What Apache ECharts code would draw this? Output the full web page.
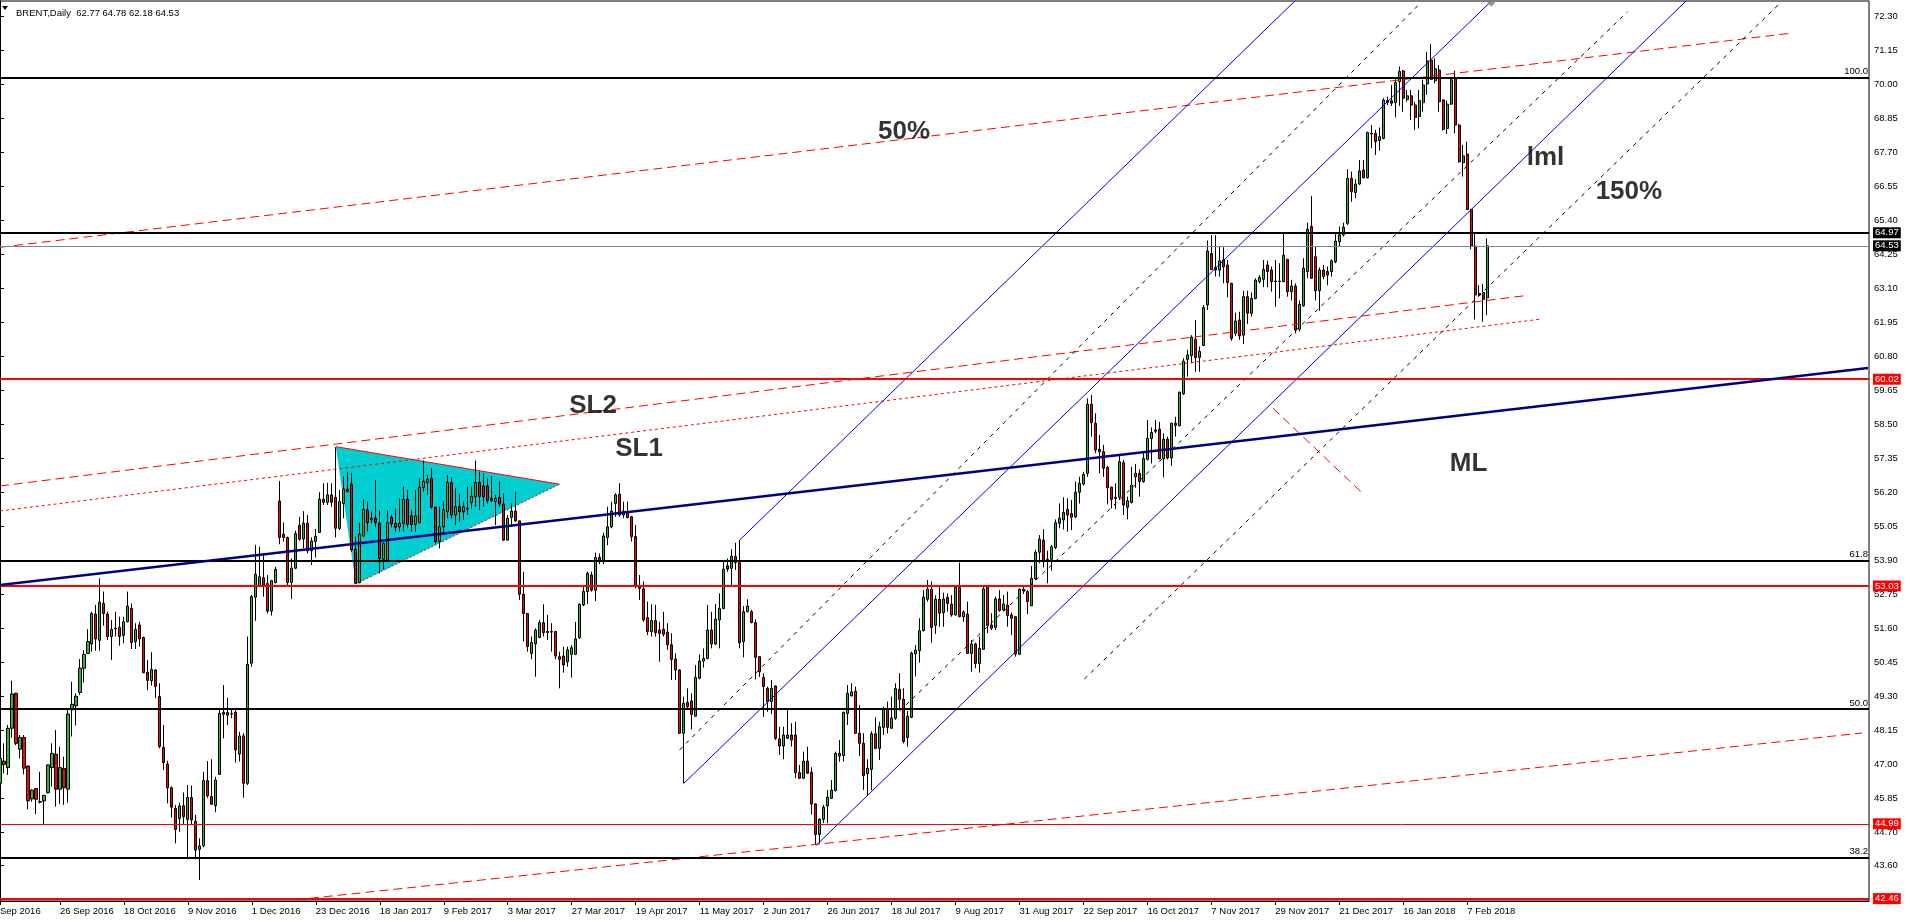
<!DOCTYPE html>
<html><head><meta charset="utf-8">
<script src="https://cdn.jsdelivr.net/npm/echarts@6/dist/echarts.min.js"></script>
<style>html,body{margin:0;padding:0;background:#fff;overflow:hidden}#c{width:1911px;height:923px}</style>
</head><body><div id="c"></div>
<script>
// ---- DATA ----
// daily bars [open, close, low, high]
const ohlc = [
[46.36,47.20,46.08,49.01],[47.11,47.00,46.70,47.71],[46.89,48.22,46.64,48.33],[48.22,49.38,47.90,49.83],[49.40,47.71,47.65,49.42],
[47.51,47.91,47.20,47.99],[47.91,46.87,46.66,47.99],[46.94,45.77,45.48,46.96],[45.83,46.13,45.74,46.15],[46.18,45.82,45.32,46.20],
[45.74,45.72,45.68,46.75],[45.76,45.95,44.97,45.97],[46.04,46.98,46.02,47.00],[46.89,47.37,46.25,47.71],[47.34,46.16,45.57,48.16],
[46.16,46.89,45.66,47.60],[46.86,46.21,45.63,47.26],[46.16,48.70,45.70,48.84],[48.84,49.03,47.94,49.79],[48.98,49.30,48.31,49.40],
[49.43,50.25,49.34,50.56],[50.25,50.72,49.77,50.86],[50.75,51.15,50.73,51.57],[51.07,52.10,50.81,52.16],[52.08,51.24,50.84,52.39],
[51.19,52.48,50.84,53.29],[52.44,52.10,51.69,52.84],[52.08,51.32,51.20,52.16],[51.32,51.56,50.53,51.88],[51.60,51.58,51.32,52.16],
[51.63,51.32,51.01,51.99],[51.36,51.82,51.09,51.99],[51.82,52.35,51.80,52.84],[52.27,51.12,50.90,52.44],[51.15,51.56,50.90,51.77],
[51.71,51.24,50.98,51.82],[51.29,50.10,50.08,51.32],[50.11,49.84,49.51,50.53],[49.83,50.21,49.66,50.79],[50.19,49.63,49.23,50.21],
[49.29,47.60,47.54,49.74],[47.57,47.06,46.81,48.33],[47.01,46.21,45.68,47.12],[46.21,45.55,45.20,46.25],[45.51,44.80,44.33,45.63],
[45.17,45.59,44.72,45.70],[45.60,45.23,44.95,46.05],[45.14,45.88,43.79,46.30],[45.88,45.12,44.95,46.28],[45.08,44.10,43.79,45.29],
[44.13,44.24,43.09,44.50],[44.25,46.45,44.19,46.75],[46.45,45.93,45.87,47.11],[45.91,45.65,45.63,47.17],[45.60,46.47,45.38,46.58],
[46.66,48.72,46.64,48.89],[48.76,48.69,47.88,49.68],[48.75,48.66,48.33,49.25],[48.70,48.72,48.56,48.89],[48.76,47.49,47.06,48.89],
[47.35,47.96,47.10,48.10],[47.96,46.36,45.87,48.05],[46.36,50.38,46.30,51.32],[50.42,52.67,50.30,52.73],[52.65,53.42,51.85,54.42],
[53.04,53.34,53.01,54.36],[53.31,53.06,52.67,54.13],[53.11,52.18,52.10,53.40],[52.18,53.21,52.03,53.23],[53.14,53.59,53.12,53.68],
[55.90,54.67,54.44,56.58],[54.78,54.67,54.53,55.18],[54.67,53.15,53.01,54.70],[53.15,53.63,52.59,53.96],[53.63,54.80,53.60,54.90],
[55.08,54.61,54.56,55.37],[54.62,55.15,54.30,55.56],[55.15,54.22,54.13,55.43],[54.22,54.55,53.74,54.67],[54.53,54.71,53.99,54.96],
[54.84,55.96,54.83,56.20],[55.96,55.86,55.77,56.50],[55.86,56.11,55.77,56.52],[56.11,55.86,55.71,56.50],[56.03,54.98,54.67,57.72],
[54.98,55.88,54.92,56.27],[55.82,56.31,55.32,56.73],[56.30,56.22,56.20,56.89],[56.47,54.25,54.19,56.86],[54.27,53.12,53.10,54.70],
[53.14,54.78,53.12,55.17],[54.72,55.62,54.70,55.96],[55.60,55.17,54.87,55.88],[55.32,55.26,55.15,55.54],[55.32,55.17,55.01,56.61],
[55.15,53.96,53.46,55.58],[53.93,54.47,53.59,54.50],[53.91,55.17,53.89,55.58],[55.35,55.13,55.01,55.43],[55.15,55.01,54.87,55.65],
[55.03,55.15,54.87,55.99],[55.15,55.96,54.87,56.39],[55.96,55.11,54.98,56.27],[55.40,55.11,54.87,55.60],[55.11,55.40,54.87,56.27],
[55.17,56.36,55.15,56.67],[56.36,56.56,56.22,57.27],[56.53,56.63,56.11,56.78],[56.67,55.69,55.65,57.01],[55.69,54.53,54.47,55.71],
[54.53,55.03,54.30,55.71],[55.03,55.60,54.75,55.88],[55.54,56.53,55.32,56.78],[56.52,55.43,55.32,56.70],[55.43,55.71,55.09,56.33],
[55.71,55.54,55.20,56.14],[55.54,55.71,55.26,55.88],[55.63,55.65,55.43,56.39],[55.85,56.07,55.65,56.39],[56.05,56.53,55.71,57.27],
[56.53,56.05,55.60,56.89],[56.41,56.05,55.71,56.84],[56.41,55.91,55.82,56.67],[55.99,55.91,55.88,56.75],[55.88,55.99,55.09,56.11],
[56.02,55.80,55.71,56.56],[55.80,54.58,54.55,56.16],[54.58,55.32,54.56,55.43],[55.35,55.56,55.03,55.82],[55.56,55.23,55.20,56.22],
[55.23,52.75,52.56,55.25],[52.75,52.10,51.15,53.51],[52.10,50.98,50.81,52.12],[50.75,51.12,50.55,51.32],[51.07,51.54,49.96,51.60],
[51.29,51.79,51.26,51.88],[51.79,51.45,51.32,52.41],[51.49,51.46,51.20,52.05],[51.49,51.47,50.81,51.77],[51.49,50.66,50.55,51.51],
[50.64,50.55,49.57,50.81],[50.66,50.36,50.10,50.98],[50.47,50.87,50.30,50.98],[50.72,50.94,49.93,51.03],[50.72,51.24,50.70,51.82],
[51.28,52.41,51.24,52.44],[52.39,52.84,52.35,53.06],[52.84,53.46,52.42,53.51],[53.40,52.89,52.84,53.51],[52.89,53.99,52.52,54.16],
[54.00,53.85,53.77,54.13],[53.89,54.72,53.77,54.83],[54.67,55.03,54.41,55.71],[55.03,55.56,54.98,55.88],[55.82,56.11,55.37,56.16],
[56.13,55.43,55.37,56.50],[55.56,55.43,55.32,55.88],[55.54,55.34,55.32,55.88],[55.37,54.70,54.53,55.40],[54.70,53.01,52.95,55.09],
[53.01,52.95,52.56,53.40],[52.93,51.88,51.82,53.18],[51.96,51.49,51.37,52.50],[51.49,51.86,51.32,52.41],[51.86,51.45,51.32,52.39],
[51.54,51.43,50.47,51.82],[51.57,51.40,51.32,52.16],[51.47,51.04,50.87,51.77],[51.04,50.55,49.85,51.43],[50.56,50.19,49.85,50.75],
[50.19,48.05,48.03,50.21],[48.05,49.06,46.36,49.29],[49.09,48.95,48.89,49.57],[49.14,48.69,48.18,49.40],[48.63,49.94,48.61,50.36],
[49.91,50.49,49.87,50.72],[50.49,50.58,50.27,50.92],[50.58,51.54,50.55,52.39],[51.54,51.07,50.92,52.16],[51.07,51.91,51.03,52.42],
[51.88,52.27,50.92,52.78],[52.27,53.60,52.24,53.91],[53.71,53.60,53.51,53.96],[53.63,54.04,53.06,54.27],[54.02,53.82,53.57,54.49],
[53.82,51.11,50.92,54.58],[51.15,52.16,50.62,52.35],[52.16,52.35,52.14,52.58],[52.16,51.79,51.77,52.22],[51.79,50.62,49.87,51.90],
[50.64,50.13,49.96,50.66],[49.94,49.63,48.61,50.08],[49.57,49.12,48.78,49.63],[49.12,49.57,48.70,49.85],[49.65,47.88,47.82,49.67],
[47.86,47.62,47.32,48.27],[47.62,47.99,47.17,48.27],[47.88,47.99,47.86,48.84],[47.99,47.82,47.60,48.39],[47.99,46.72,46.53,48.44],
[46.72,46.53,46.50,46.98],[46.53,47.11,46.50,47.43],[47.11,46.70,46.68,47.60],[46.73,45.66,45.31,46.90],[45.66,44.63,44.27,45.68],
[44.63,45.14,44.33,45.18],[45.14,45.55,45.01,45.63],[45.59,45.89,45.01,46.13],[45.85,46.13,45.83,46.47],[46.11,47.37,46.08,47.43],
[47.37,47.28,47.09,47.82],[47.30,48.76,47.09,48.78],[48.72,49.40,48.33,49.68],[49.32,49.45,49.29,49.74],[49.47,48.05,48.03,49.63],
[48.05,47.71,47.28,49.01],[47.71,46.62,46.13,48.05],[46.68,46.87,45.96,47.17],[46.83,48.03,46.13,48.12],[48.03,47.54,47.51,48.59],
[47.54,48.27,47.15,48.44],[48.25,48.89,47.99,48.95],[48.89,48.25,48.05,49.12],[48.22,48.57,48.20,49.29],[48.56,49.56,48.50,49.74],
[49.54,49.20,48.89,50.08],[49.20,47.77,47.71,49.57],[47.91,48.62,47.60,48.81],[48.59,50.76,48.56,50.81],[50.73,50.86,49.97,51.03],
[50.84,51.52,50.44,51.94],[51.52,52.65,51.49,52.89],[52.58,52.92,52.50,53.23],[52.92,51.63,51.11,53.18],[51.70,52.58,51.41,52.72],
[52.58,52.11,51.65,53.06],[52.13,52.59,51.65,52.80],[52.65,52.44,52.16,52.78],[52.42,52.05,51.99,52.72],[52.05,52.98,52.03,53.03],
[52.98,51.99,51.97,53.82],[51.99,52.15,51.82,52.20],[52.08,50.75,50.73,52.50],[50.75,51.07,50.13,51.20],[51.07,50.41,50.25,51.11],
[50.41,50.92,50.10,51.32],[50.89,52.93,50.87,53.03],[53.04,51.69,51.43,53.06],[51.71,51.60,51.54,52.11],[51.63,52.59,51.54,52.67],
[52.59,52.20,52.16,52.89],[52.22,52.42,52.18,52.72],[52.38,52.03,51.65,52.84],[52.05,51.94,51.37,52.13],[51.99,50.73,50.64,52.02],
[50.72,52.92,50.70,52.95],[52.92,52.86,52.76,53.03],[52.84,52.50,52.08,52.89],[52.36,53.29,52.35,53.71],[53.27,54.17,53.23,54.25],
[54.17,54.61,53.80,54.75],[54.58,53.85,53.66,54.95],[53.93,53.87,53.12,54.22],[53.93,54.36,53.55,54.42],[54.33,55.17,54.28,55.28],
[55.15,55.32,54.98,55.82],[55.26,55.52,54.94,56.03],[55.62,55.43,54.87,55.99],[55.48,55.35,54.92,55.94],[55.37,56.20,55.32,56.56],
[56.20,56.50,55.82,56.72],[56.48,56.80,56.42,56.89],[56.84,59.17,56.72,59.37],[59.17,58.55,58.08,59.49],[58.53,57.63,57.52,58.87],
[57.65,57.57,56.84,58.13],[57.57,57.01,56.72,57.80],[57.04,56.35,55.79,57.09],[56.37,55.96,55.65,56.39],[56.03,55.99,55.62,56.50],
[56.03,57.23,55.94,57.46],[57.20,55.77,55.43,57.29],[55.69,55.91,55.28,56.05],[55.85,56.44,55.82,57.06],[56.72,56.84,56.35,57.15],
[56.84,56.56,56.05,56.97],[56.56,57.34,56.52,57.57],[57.31,58.02,57.27,58.64],[58.01,58.22,57.17,58.39],[58.30,58.26,58.19,58.64],
[58.33,57.33,57.31,58.58],[57.33,57.99,56.70,58.19],[57.99,57.36,57.31,58.08],[57.36,58.53,57.09,58.55],[58.53,58.46,58.08,58.75],
[58.45,59.58,58.42,59.60],[59.52,60.63,59.49,60.73],[60.69,60.84,60.11,61.01],[60.82,61.44,60.56,61.51],[61.37,60.75,60.27,62.02],
[60.76,60.96,60.27,61.12],[61.16,62.44,61.14,62.53],[62.53,64.35,62.36,64.71],[64.27,63.73,63.71,64.89],[63.79,63.71,63.49,64.89],
[63.71,64.02,63.49,64.50],[64.05,63.82,63.26,64.48],[63.88,63.29,62.79,64.05],[63.26,61.40,61.32,63.28],[61.57,61.99,61.48,62.27],
[62.02,61.48,61.35,62.30],[61.51,62.81,61.21,63.01],[62.81,62.25,61.89,63.01],[62.25,62.75,62.14,62.95],[62.75,63.37,62.72,63.43],
[63.32,63.46,63.26,63.54],[63.40,63.73,63.13,64.05],[63.88,63.66,63.13,64.03],[63.71,63.32,62.98,63.83],[63.34,63.32,62.47,64.05],
[63.32,63.34,62.75,63.94],[63.32,64.21,63.30,64.95],[64.07,62.98,62.81,64.09],[62.98,63.17,62.68,63.38],[63.17,61.68,61.57,63.26],
[61.71,62.55,61.63,62.68],[62.50,63.77,62.47,64.11],[63.66,65.09,63.43,65.31],[65.18,63.43,63.41,66.21],[64.16,63.01,62.68,64.52],
[63.01,63.71,62.33,63.80],[63.71,63.49,63.40,63.88],[63.66,63.54,63.20,63.83],[63.66,64.02,63.49,64.07],[63.99,64.69,63.94,64.95],
[64.67,64.90,64.50,65.18],[64.90,65.16,64.84,65.31],[65.29,66.81,65.23,67.12],[66.81,66.36,66.02,67.04],[66.33,66.62,66.14,66.78],
[66.62,67.06,66.59,67.43],[67.09,66.83,66.81,67.43],[66.83,68.36,66.81,68.39],[68.33,68.31,67.83,68.61],[68.33,68.05,67.60,68.45],
[68.09,68.22,67.75,68.53],[68.16,69.46,68.13,69.52],[69.44,69.38,69.29,69.57],[69.43,69.35,69.26,69.97],[69.37,70.05,68.87,70.16],
[70.08,70.42,69.26,70.59],[70.44,69.52,69.06,70.47],[69.48,69.60,69.40,69.80],[69.60,69.29,68.78,69.80],[69.29,68.87,68.45,69.40],
[68.90,69.44,68.50,69.80],[69.37,69.97,69.06,70.14],[70.00,70.78,69.63,71.09],[70.81,70.16,70.14,71.35],[70.11,70.51,70.02,70.87],
[70.47,69.40,69.06,70.64],[69.46,68.47,68.42,69.48],[68.50,69.32,68.31,69.44],[69.32,70.14,69.29,70.19],[70.18,68.61,68.33,70.45],
[68.61,67.37,67.34,68.65],[67.34,67.57,66.87,67.94],[67.63,65.76,65.74,68.05],[65.76,64.52,64.41,65.78],[64.52,62.87,62.04,64.95],
[62.92,62.87,62.81,63.20],[62.95,62.72,61.96,63.24],[62.77,64.53,62.18,64.78]
];
const slotCount = 468; // bars + empty future space on the chart
const xLabelIndex = [0,15,31,47,63,79,95,111,127,143,159,175,191,207,223,239,255,271,287,303,319,335,351,367];
const xLabelText = ["Sep 2016","26 Sep 2016","18 Oct 2016","9 Nov 2016","1 Dec 2016","23 Dec 2016","18 Jan 2017","9 Feb 2017",
  "3 Mar 2017","27 Mar 2017","19 Apr 2017","11 May 2017","2 Jun 2017","26 Jun 2017","18 Jul 2017","9 Aug 2017","31 Aug 2017",
  "22 Sep 2017","16 Oct 2017","7 Nov 2017","29 Nov 2017","21 Dec 2017","16 Jan 2018","7 Feb 2018"];
const yTicks = [72.30,71.15,70.00,68.85,67.70,66.55,65.40,64.25,63.10,61.95,60.80,59.65,58.50,57.35,56.20,55.05,53.90,52.75,51.60,50.45,49.30,48.15,47.00,45.85,44.70,43.60];
// horizontal levels: value, kind, text
const levelValues = [70.21, 64.97, 64.53, 60.02, 53.88, 53.03, 48.87, 44.99, 43.84, 42.46];
const levelKinds  = ['fib','black','price','red','fib','red','fib','redThin','fib','red'];
const levelTexts  = ['100.0','64.97','64.53','60.02','61.8','53.03','50.0','44.99','38.2','42.46'];
// trend lines [barIndex, price]
const line50 = [[0,64.48],[447.5,71.71]];
const lineSL2 = [[0,56.41],[381.25,62.84]];
const lineSL1 = [[0,55.565],[385,62.045]];
const lineLowRed = [[74,42.42],[465.75,48.06]];
const lineShortRed = [[318.4,59.04],[341.25,56.11]];
const lineML = [[0,53.06],[467.25,60.40]];
const blueA = [[185,54.58],[324,72.82]];
const blueB = [[171,46.35],[373,72.80]];
const blueC = [[204.2,44.27],[421.7,72.80]];
const dash1 = [[170,47.49],[355.4,72.75]];
const dash2 = [[225,48.80],[407.1,72.44]];
const dash3 = [[271.25,49.885],[445.4,72.75]];
const triangle = [[84,57.74],[89,53.10],[140,56.47]];
const anchorB = [373,72.75];
const notes = [
  {name:'50%', value:[219.5,68.37]},
  {name:'SL2', value:[142.25,59.125]},
  {name:'SL1', value:[153.75,57.667]},
  {name:'lml', value:[381.75,67.515]},
  {name:'150%', value:[399,66.359]},
  {name:'ML', value:[362.5,57.17]}
];
const titleText = 'BRENT,Daily  62.77 64.78 62.18 64.53';

// ---- CHART ----
const FONT = '"Liberation Sans", Arial, sans-serif';
const categories = [];
for (let i = 0; i < slotCount; i++) categories.push(String(i));
const labelMap = {};
xLabelIndex.forEach((k, j) => labelMap[k] = xLabelText[j]);
const isLabel = (idx) => labelMap[idx] !== undefined;

const levelStyle = {
  fib:    {color:'#000000', width:2},
  black:  {color:'#000000', width:2},
  price:  {color:'#778899', width:1},
  red:    {color:'#FF0000', width:2},
  redThin:{color:'#FF0000', width:1}
};
const markData = levelValues.map((v, i) => {
  const kind = levelKinds[i];
  const st = levelStyle[kind];
  let label;
  if (kind === 'fib') {
    label = {show:true, position:'insideEndTop', formatter: levelTexts[i], color:'#000', fontSize:9.5, fontFamily:FONT, distance:1};
  } else {
    const bg = (kind === 'black' || kind === 'price') ? '#000000' : '#FF0000';
    label = {show:true, position:'end', formatter: levelTexts[i], color:'#fff', backgroundColor:bg,
      fontSize:9.5, fontFamily:FONT, padding:[1,2,0,2], distance:4, lineHeight:10};
  }
  return {yAxis: v, lineStyle:{color:st.color, width:st.width, type:'solid'}, label};
});

function seg(data, color, width, type, z) {
  return {type:'line', xAxisIndex:1, yAxisIndex:0, data, symbol:'none', silent:true, animation:false,
    clip:true, z: z || 4, lineStyle:{color, width, type}};
}

const option = {
  animation:false,
  backgroundColor:'#ffffff',
  textStyle:{fontFamily:FONT},
  title:{text:titleText, left:11, top:3, textStyle:{fontSize:9.5, fontWeight:'normal', color:'#000', fontFamily:FONT}},
  graphic:[{type:'polygon', shape:{points:[[2,6],[8,6],[5,10]]}, style:{fill:'#000'}}],
  grid:{left:-2, right:42, top:1, bottom:22, containLabel:false, outerBoundsMode:'none',
        show:true, borderColor:'#000', borderWidth:1, backgroundColor:'#fff'},
  xAxis:[
    {type:'category', data:categories, boundaryGap:true,
     axisLine:{show:true, lineStyle:{color:'#000', width:1}},
     axisTick:{show:true, alignWithLabel:true, length:4, interval:(idx)=>isLabel(idx), lineStyle:{color:'#000'}},
     axisLabel:{show:true, interval:(idx)=>isLabel(idx), formatter:(v, idx)=>labelMap[idx] || '', align:'left',
       margin:5, fontSize:9.5, color:'#000', fontFamily:FONT, hideOverlap:false},
     splitLine:{show:false}},
    {type:'value', min:-0.5, max:slotCount-0.5, show:false, splitLine:{show:false}}
  ],
  yAxis:[{type:'value', position:'right', min:42.38, max:72.806, scale:true,
    axisLine:{show:true, lineStyle:{color:'#000', width:1}},
    axisTick:{show:true, length:4, customValues:yTicks, lineStyle:{color:'#000'}},
    axisLabel:{show:true, customValues:yTicks, formatter:(v)=>Number(v).toFixed(2), margin:5, fontSize:9.5, color:'#000', fontFamily:FONT},
    splitLine:{show:false}}],
  series:[
    {type:'custom', xAxisIndex:1, yAxisIndex:0, data:[[0,50]], silent:true, z:1,
     renderItem:(params, api)=>{
       const p = triangle.map(t => api.coord(t));
       return {type:'group', children:[
         {type:'polygon', shape:{points:p}, style:{fill:'#00CED1'}},
         {type:'polyline', shape:{points:[p[0],p[2]]}, style:{stroke:'#FF0000', lineWidth:1, fill:null}},
         {type:'polyline', shape:{points:[p[1],p[2]]}, style:{stroke:'#FF0000', lineWidth:1, lineDash:[2,2], fill:null}}
       ]};
     }},
    {type:'candlestick', xAxisIndex:0, yAxisIndex:0, data:ohlc, barWidth:2.6, z:2, silent:true,
     itemStyle:{color:'#2DB52D', color0:'#FF0000', borderColor:'#000', borderColor0:'#000', borderColorDoji:'#000', borderWidth:1},
     markLine:{symbol:['none','none'], silent:true, animation:false, precision:2, data:markData}},
    seg(line50, '#FF0000', 1, [9,5]),
    seg(lineSL2, '#FF0000', 1, [9,5]),
    seg(lineSL1, '#FF0000', 1, [3,3]),
    seg(lineLowRed, '#FF0000', 1, [9,5]),
    seg(lineShortRed, '#FF0000', 1, [9,5]),
    seg(lineML, '#000080', 2.5, 'solid', 5),
    seg(blueA, '#0000CD', 1, 'solid'),
    seg(blueB, '#0000CD', 1, 'solid'),
    seg(blueC, '#0000CD', 1, 'solid'),
    seg(dash1, '#000000', 1, [4,5]),
    seg(dash2, '#000000', 1, [4,5]),
    seg(dash3, '#000000', 1, [4,5]),
    {type:'scatter', xAxisIndex:1, yAxisIndex:0, data:[anchorB], symbol:'diamond', symbolSize:8, silent:true, z:6,
     itemStyle:{color:'#808080'}},
    {type:'scatter', xAxisIndex:1, yAxisIndex:0, data:notes, symbolSize:1, silent:true, z:7,
     itemStyle:{color:'rgba(0,0,0,0)'},
     label:{show:true, position:'right', distance:0, formatter:(p)=>p.name, color:'#000', fontSize:26, fontWeight:'bold', fontFamily:FONT}}
  ]
};
const chart = echarts.init(document.getElementById('c'), null, {renderer:'canvas'});
chart.setOption(option);
</script>
</body></html>
